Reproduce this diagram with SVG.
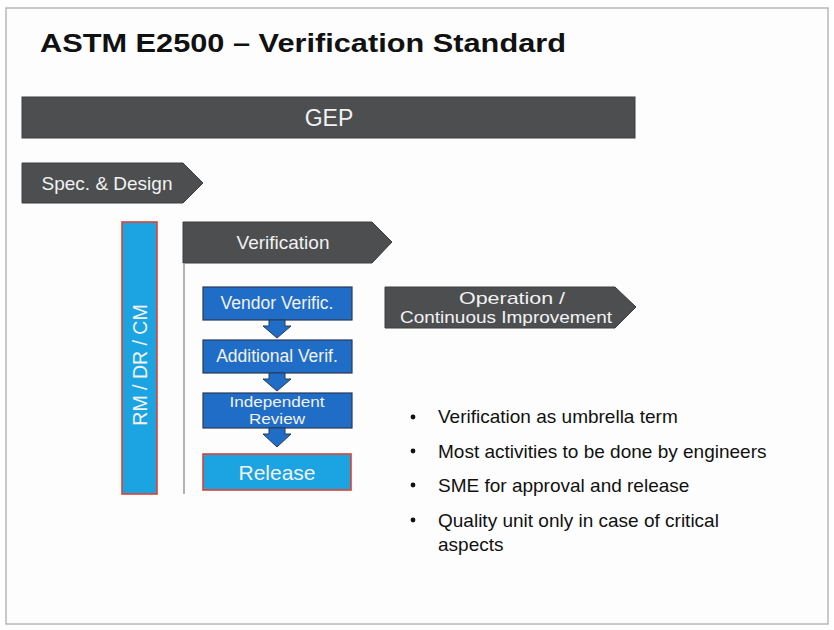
<svg xmlns="http://www.w3.org/2000/svg" width="834" height="630" viewBox="0 0 834 630">
  <style>
    .bar { fill: #4c4e50; stroke: #3c3e40; stroke-width: 1; }
    .step { fill: #1f6dc6; stroke: #2a3a55; stroke-width: 1.2; }
    .lite { fill: #1ba3e2; stroke: #e2402f; stroke-width: 1.6; }
    .flow { fill: #1f6dc6; stroke: #2a3a55; stroke-width: 1; }
    .wt { font-family: "Liberation Sans", Arial, sans-serif; fill: #f2f2f2; text-anchor: middle; }
    .bl { font-family: "Liberation Sans", Arial, sans-serif; fill: #111111; font-size: 19px; }
  </style>

  <!-- slide background and frame -->
  <rect x="0" y="0" width="834" height="630" fill="#ffffff"/>
  <rect x="6" y="8" width="822" height="616" fill="#fdfdfd" stroke="#b8b8b8" stroke-width="1.5"/>

  <text x="40" y="52" font-family="Liberation Sans, Arial, sans-serif" font-weight="bold" font-size="26" fill="#111111" textLength="526" lengthAdjust="spacingAndGlyphs">ASTM E2500 – Verification Standard</text>

  <g id="gep">
    <rect class="bar" x="22" y="97" width="613" height="41"/>
    <text class="wt" x="329" y="126" font-size="23">GEP</text>
  </g>

  <g id="spec-design">
    <polygon class="bar" points="22,163 183,163 203,183 183,203 22,203"/>
    <text class="wt" x="107" y="190" font-size="19">Spec. &amp; Design</text>
  </g>

  <g id="rm-dr-cm">
    <rect class="lite" x="122" y="222" width="35" height="272"/>
    <text class="wt" x="0" y="0" font-size="19.5" transform="translate(147,365) rotate(-90)">RM / DR / CM</text>
  </g>

  <g id="verification">
    <polygon class="bar" points="183,222 372,222 392,242 372,263 183,263"/>
    <text class="wt" x="283" y="249" font-size="19">Verification</text>
  </g>

  <g id="operation">
    <polygon class="bar" points="385,287 615,287 636,307 615,328 385,328"/>
    <text class="wt" x="512" y="304" font-size="17" textLength="106" lengthAdjust="spacingAndGlyphs">Operation /</text>
    <text class="wt" x="506" y="323" font-size="17" textLength="212" lengthAdjust="spacingAndGlyphs">Continuous Improvement</text>
  </g>

  <g id="vendor-verific">
    <rect class="step" x="203" y="287" width="149" height="33"/>
    <text class="wt" x="277" y="309" font-size="17.5">Vendor Verific.</text>
  </g>

  <g id="additional-verif">
    <rect class="step" x="203" y="340" width="149" height="33"/>
    <text class="wt" x="277" y="362" font-size="17.5">Additional Verif.</text>
  </g>

  <g id="independent-review">
    <rect class="step" x="203" y="393" width="149" height="35"/>
    <text class="wt" x="277" y="407" font-size="15" textLength="95" lengthAdjust="spacingAndGlyphs">Independent</text>
    <text class="wt" x="277" y="424" font-size="15" textLength="56" lengthAdjust="spacingAndGlyphs">Review</text>
  </g>

  <g id="release">
    <rect class="lite" x="203" y="454" width="148" height="36"/>
    <text class="wt" x="277" y="480" font-size="21">Release</text>
  </g>

  <g id="connectors">
    <line x1="184" y1="263" x2="184" y2="494" stroke="#9a9a9a" stroke-width="1.5"/>
    <polygon class="flow" points="269,320 285,320 285,326 291,326 277,338 263,326 269,326"/>
    <polygon class="flow" points="269,373 285,373 285,379 291,379 277,391 263,379 269,379"/>
    <polygon class="flow" points="269,428 285,428 285,434 291,434 277,447 263,434 269,434"/>
  </g>

  <g id="notes">
    <circle cx="413" cy="417" r="2.4" fill="#111"/>
    <text class="bl" x="438" y="423">Verification as umbrella term</text>
    <circle cx="413" cy="451" r="2.4" fill="#111"/>
    <text class="bl" x="438" y="458">Most activities to be done by engineers</text>
    <circle cx="413" cy="485" r="2.4" fill="#111"/>
    <text class="bl" x="438" y="492">SME for approval and release</text>
    <circle cx="413" cy="520" r="2.4" fill="#111"/>
    <text class="bl" x="438" y="527">Quality unit only in case of critical</text>
    <text class="bl" x="438" y="551">aspects</text>
  </g>
</svg>
